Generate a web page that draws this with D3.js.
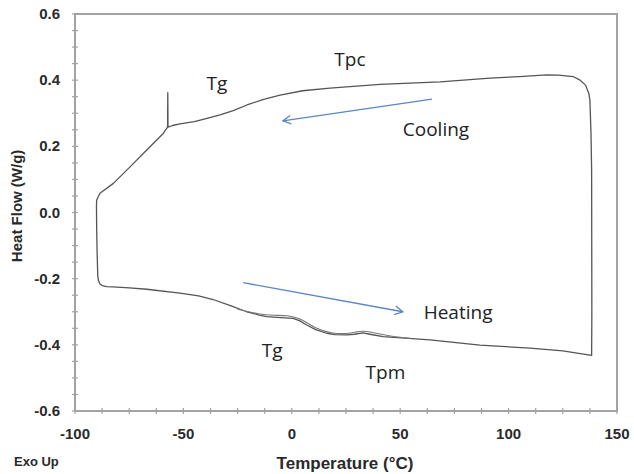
<!DOCTYPE html>
<html>
<head>
<meta charset="utf-8">
<script src="https://cdn.jsdelivr.net/npm/d3@7"></script>
<style>
  body { margin: 0; background: #fff; }
  svg { display: block; }
</style>
</head>
<body>
<script>
var width = 634;
var height = 474;

// 軸の目盛り
var xTicks = [-100, -50, 0, 50, 100, 150];
var yTicks = [-0.6, -0.4, -0.2, 0.0, 0.2, 0.4, 0.6];

// DSC曲線（加熱 → 等温 → 冷却 → Tgスパイク → 左端）
var loopTemp = [-89.2, -88.6, -87.5, -85.4, -82.5, -75, -66.9, -51.6, -43, -36.3, -28, -20.8, -15, -11.6, -5, 0.6, 3.5, 6.9, 11, 16.1, 20, 25.3, 29, 32.8, 36, 42.1, 63.7, 86.8, 109.9, 125, 137.5, 138.3,
  138.4, 138.3, 138.0, 137.5, 137, 135.5, 133, 129.7, 123, 117.6, 105, 91.4, 68.4, 40.7, 17.6, 5, -5.4, -13, -20.7, -27, -33.1, -40, -45, -51.6, -55, -57.1,
  -57.2, -57.3, -59.3, -66.9, -74.6, -82.3, -88.5, -90.0, -90.1, -90.0, -89.8, -89.5, -89.2];
var loopFlow = [-0.205, -0.215, -0.221, -0.224, -0.225, -0.228, -0.232, -0.244, -0.252, -0.263, -0.282, -0.300, -0.310, -0.315, -0.318, -0.320, -0.327, -0.340, -0.354, -0.365, -0.369, -0.370, -0.368, -0.364, -0.368, -0.375, -0.385, -0.401, -0.410, -0.418, -0.431, -0.432,
  -0.30, 0.128, 0.240, 0.340, 0.360, 0.385, 0.400, 0.411, 0.415, 0.416, 0.411, 0.406, 0.395, 0.387, 0.376, 0.368, 0.355, 0.342, 0.325, 0.308, 0.295, 0.283, 0.275, 0.268, 0.263, 0.258,
  0.362, 0.258, 0.239, 0.189, 0.138, 0.088, 0.058, 0.038, 0.020, -0.050, -0.120, -0.190, -0.205];

// 2回目の加熱（Tg・Tpm付近で少しずれる）
var heat2Temp = [-25, -15, -8, -2, 3, 7, 11, 18, 26, 30, 33, 38, 45, 55];
var heat2Flow = [-0.292, -0.308, -0.311, -0.311, -0.318, -0.333, -0.350, -0.366, -0.367, -0.360, -0.358, -0.363, -0.374, -0.381];

// 注記
var noteText = ["Tg", "Tpc", "Cooling", "Heating", "Tg", "Tpm"];
var noteTemp = [-34.5, 26.8, 66.5, 76.7, -9.1, 43.2];
var noteFlow = [0.370, 0.443, 0.231, -0.322, -0.437, -0.503];

// 矢印 [開始T, 開始値, 終了T, 終了値]
var arrowCool = [64.7, 0.343, -4.1, 0.277];
var arrowHeat = [-22.4, -0.212, 51.2, -0.300];

var margin = {left: 75, right: 17, top: 14, bottom: 63};

var svg = d3.select("body").append("svg")
  .attr("width", width)
  .attr("height", height);

var x = d3.scaleLinear().domain([-100, 150]).range([margin.left, width - margin.right]);
var y = d3.scaleLinear().domain([-0.6, 0.6]).range([height - margin.bottom, margin.top]);

var axisColor = "#a3a3a3";

// 枠
svg.append("rect")
  .attr("x", x(-100)).attr("y", y(0.6))
  .attr("width", x(150) - x(-100)).attr("height", y(-0.6) - y(0.6))
  .attr("fill", "none").attr("stroke", axisColor).attr("stroke-width", 2);

// 補助目盛り
var xMinor = d3.range(-100, 150.1, 12.5);
var yMinor = d3.range(-0.6, 0.601, 0.05);
svg.append("g").selectAll("line").data(xMinor).join("line")
  .attr("x1", d => x(d)).attr("x2", d => x(d))
  .attr("y1", y(-0.6) - 3).attr("y2", y(-0.6) + 3)
  .attr("stroke", axisColor).attr("stroke-width", 1.2);
svg.append("g").selectAll("line").data(yMinor).join("line")
  .attr("x1", x(-100) - 3).attr("x2", x(-100) + 3)
  .attr("y1", d => y(d)).attr("y2", d => y(d))
  .attr("stroke", axisColor).attr("stroke-width", 1.2);

// 目盛りラベル
var tickFont = "'Liberation Sans', Arial, sans-serif";
svg.append("g").selectAll("text").data(xTicks).join("text")
  .attr("x", d => x(d)).attr("y", y(-0.6) + 28)
  .attr("text-anchor", "middle")
  .attr("font-family", tickFont).attr("font-size", 15).attr("font-weight", "bold")
  .attr("fill", "#2a2a2a")
  .text(d => d);
svg.append("g").selectAll("text").data(yTicks).join("text")
  .attr("x", x(-100) - 15).attr("y", d => y(d) + 5)
  .attr("text-anchor", "end")
  .attr("font-family", tickFont).attr("font-size", 15).attr("font-weight", "bold")
  .attr("fill", "#2a2a2a")
  .text(d => d3.format(".1f")(d).replace("−", "-"));

// 軸タイトル
svg.append("text")
  .attr("x", 345).attr("y", 469)
  .attr("text-anchor", "middle")
  .attr("font-family", tickFont).attr("font-size", 17).attr("font-weight", "bold")
  .attr("fill", "#2a2a2a")
  .text("Temperature (°C)");
svg.append("text")
  .attr("transform", "translate(22," + y(0.02) + ") rotate(-90)")
  .attr("text-anchor", "middle")
  .attr("font-family", tickFont).attr("font-size", 15).attr("font-weight", "bold")
  .attr("fill", "#2a2a2a")
  .text("Heat Flow (W/g)");
svg.append("text")
  .attr("x", 14).attr("y", 466)
  .attr("font-family", tickFont).attr("font-size", 13).attr("font-weight", "bold")
  .attr("fill", "#2a2a2a")
  .text("Exo Up");

// 曲線
var line = d3.line().x(d => x(d[0])).y(d => y(d[1]));
svg.append("path")
  .datum(d3.zip(loopTemp, loopFlow))
  .attr("d", line)
  .attr("fill", "none").attr("stroke", "#555").attr("stroke-width", 1.3)
  .attr("stroke-linejoin", "round");
svg.append("path")
  .datum(d3.zip(heat2Temp, heat2Flow))
  .attr("d", line.curve(d3.curveBasis))
  .attr("fill", "none").attr("stroke", "#777").attr("stroke-width", 1.1);

// 矢印
var arrowColor = "#5a86c8";
function drawArrow(a) {
  var x1 = x(a[0]), y1 = y(a[1]), x2 = x(a[2]), y2 = y(a[3]);
  var ang = Math.atan2(y2 - y1, x2 - x1);
  var len = 9, spread = 0.5;
  svg.append("line")
    .attr("x1", x1).attr("y1", y1).attr("x2", x2).attr("y2", y2)
    .attr("stroke", arrowColor).attr("stroke-width", 1.3);
  svg.append("path")
    .attr("d", "M" + (x2 - len * Math.cos(ang - spread)) + "," + (y2 - len * Math.sin(ang - spread)) +
      "L" + x2 + "," + y2 +
      "L" + (x2 - len * Math.cos(ang + spread)) + "," + (y2 - len * Math.sin(ang + spread)))
    .attr("fill", "none").attr("stroke", arrowColor).attr("stroke-width", 1.3);
}
drawArrow(arrowCool);
drawArrow(arrowHeat);

// 注記ラベル
svg.append("g").selectAll("text").data(noteText).join("text")
  .attr("x", (d, i) => x(noteTemp[i]))
  .attr("y", (d, i) => y(noteFlow[i]))
  .attr("text-anchor", "middle")
  .attr("font-family", "'Open Sans', sans-serif").attr("font-size", 19)
  .attr("fill", "#222")
  .text(d => d);
</script>
</body>
</html>
